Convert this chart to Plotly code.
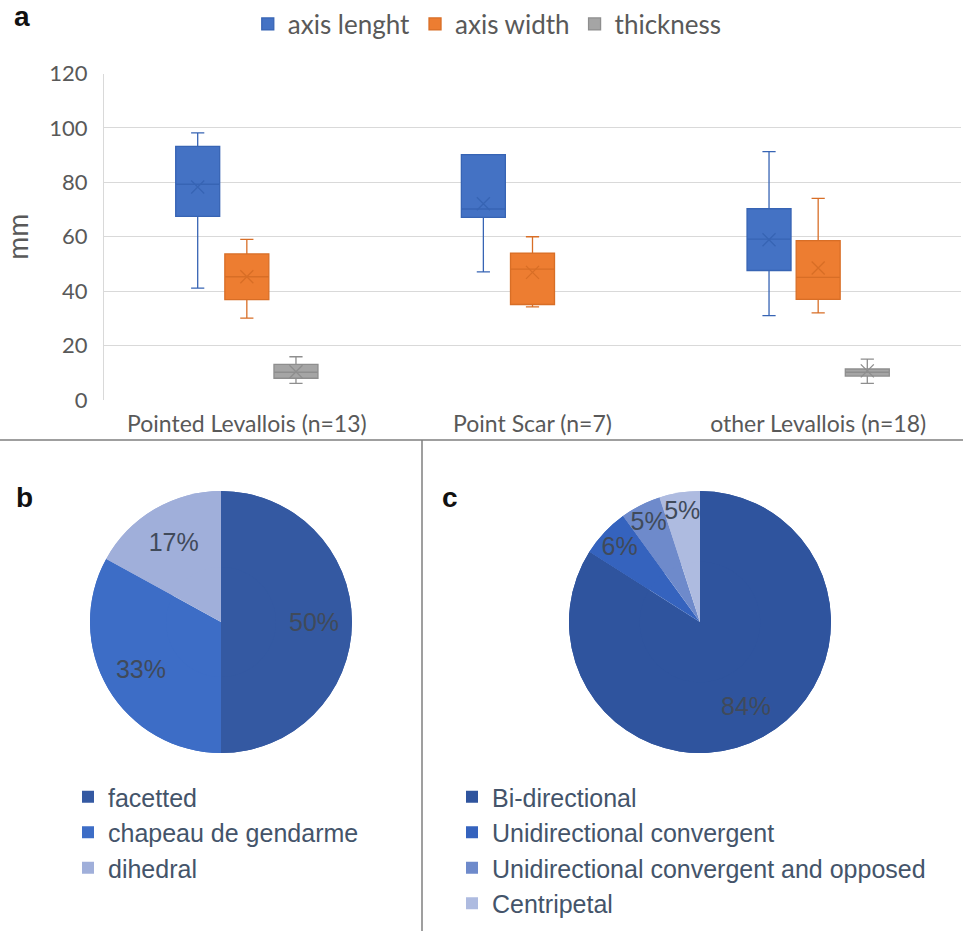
import plotly.graph_objects as go

W, H = 963, 931

# ---------------- data ----------------
categories = ["Pointed Levallois (n=13)", "Point Scar (n=7)", "other Levallois (n=18)"]
series_names = ["axis lenght", "axis width", "thickness"]

# box statistics per series, per category (None = no data)
length_q1 = [67.5, 67.1, 47.6]
length_median = [79.3, 70.2, 59.1]
length_q3 = [93.2, 90.2, 70.3]
length_low = [41.1, 47.1, 31.0]
length_high = [98.2, 90.2, 91.3]
length_mean = [78.3, 72.1, 58.9]

width_q1 = [36.9, 35.1, 37.0]
width_median = [45.3, 48.1, 45.1]
width_q3 = [53.7, 54.0, 58.6]
width_low = [30.1, 34.2, 32.0]
width_high = [59.0, 60.0, 74.1]
width_mean = [45.3, 46.9, 48.5]

thick_q1 = [8.0, None, 8.8]
thick_median = [10.2, None, 10.2]
thick_q3 = [13.1, None, 11.4]
thick_low = [6.1, None, 6.1]
thick_high = [15.9, None, 15.0]
thick_mean = [10.4, None, 10.7]

y_ticks = [0, 20, 40, 60, 80, 100, 120]

platform_labels = ["facetted", "chapeau de gendarme", "dihedral"]
platform_values = [50, 33, 17]

scar_labels = ["Bi-directional", "Unidirectional convergent",
               "Unidirectional convergent and opposed", "Centripetal"]
scar_values = [84, 6, 5, 5]

# ---------------- styles ----------------
fills = ["#4472C4", "#ED7D31", "#A5A5A5"]
edges = ["#3764B4", "#D86E26", "#8E8E8E"]
offsets = [-0.172, 0.0, 0.172]
box_w = 0.154

stats = [
    (length_q1, length_median, length_q3, length_low, length_high, length_mean),
    (width_q1, width_median, width_q3, width_low, width_high, width_mean),
    (thick_q1, thick_median, thick_q3, thick_low, thick_high, thick_mean),
]

fig = go.Figure()

for s, (q1, med, q3, lo, hi, mn) in enumerate(stats):
    idx = [i for i in range(len(categories)) if q1[i] is not None]
    xs = [i + offsets[s] for i in idx]
    fig.add_trace(go.Box(
        name=series_names[s],
        x=xs,
        q1=[q1[i] for i in idx], median=[med[i] for i in idx], q3=[q3[i] for i in idx],
        lowerfence=[lo[i] for i in idx], upperfence=[hi[i] for i in idx],
        width=box_w, whiskerwidth=0.3,
        fillcolor=fills[s], line=dict(color=edges[s], width=1.3),
        boxpoints=False, legend="legend", hoverinfo="skip",
    ))
    fig.add_trace(go.Scatter(
        x=xs, y=[mn[i] for i in idx], mode="markers", showlegend=False,
        marker=dict(symbol="x-thin-open", size=13, color=edges[s],
                    line=dict(color=edges[s], width=1.3)),
        hoverinfo="skip",
    ))

fig.update_layout(
    xaxis=dict(domain=[104 / W, 961 / W], range=[-0.5, 2.5], tickvals=[0, 1, 2],
               ticktext=categories, showgrid=False, zeroline=False, showline=False,
               ticks="", tickfont=dict(family="Lato", size=23, color="#595959"),
               ticklabelstandoff=8, automargin=False, anchor="y"),
    yaxis=dict(domain=[1 - 400 / H, 1 - 73.5 / H], range=[0, 120], tickvals=y_ticks,
               showgrid=True, gridcolor="#D9D9D9", gridwidth=1.3, zeroline=False,
               showline=True, linecolor="#D9D9D9", linewidth=1.3,
               tickfont=dict(family="Lato", size=22, color="#595959"),
               ticks="", ticklabelstandoff=11, automargin=False,
               title=dict(text="mm", font=dict(family="Lato", size=28, color="#595959")),
               anchor="x"),
)

pie_b_colors = ["#3459A2", "#3D6DC6", "#A0AFDA"]
pie_c_colors = ["#2F549E", "#3563BE", "#6E8ACB", "#AEBBE0"]
pie_text = dict(family="Liberation Sans, Arial", size=25, color="#404A5A")

pie_b_dom = dict(x=[90 / W, 352 / W], y=[1 - 753 / H, 1 - 491 / H])
pie_c_dom = dict(x=[569 / W, 831 / W], y=[1 - 753 / H, 1 - 491 / H])

for labels, values, colors, dom, leg, hole in [
    (platform_labels, platform_values, pie_b_colors, pie_b_dom, "legend2", 0.42),
    (scar_labels, scar_values, pie_c_colors, pie_c_dom, "legend3", 0.46),
]:
    # full disc underneath (no text)
    fig.add_trace(go.Pie(
        labels=labels, values=values, sort=False, direction="clockwise", rotation=0,
        marker=dict(colors=colors, line=dict(width=0)), textinfo="none",
        domain=dom, showlegend=False, hoverinfo="skip", legend=leg,
    ))
    # same slices as a ring on top, carrying the percentage labels and legend
    fig.add_trace(go.Pie(
        labels=labels, values=values, sort=False, direction="clockwise", rotation=0,
        hole=hole,
        marker=dict(colors=colors, line=dict(width=0)),
        textinfo="percent", texttemplate="%{percent:.0%}", textposition="inside",
        insidetextorientation="horizontal", textfont=pie_text,
        domain=dom, legend=leg, hoverinfo="skip",
    ))

leg_font = dict(family="Liberation Sans, Arial", size=25, color="#44546A")
fig.update_layout(
    width=W, height=H,
    margin=dict(l=0, r=0, t=0, b=0, pad=0, autoexpand=False),
    paper_bgcolor="white", plot_bgcolor="white",
    uniformtext=dict(minsize=25, mode="show"),
    legend=dict(orientation="h", x=0.506, xanchor="center", y=1 - 24 / H, yanchor="middle",
                font=dict(family="Lato", size=26, color="#595959"), itemclick=False,
                traceorder="normal", itemwidth=30),
    legend2=dict(orientation="v", x=68 / W, xanchor="left", y=1 - 774 / H, yanchor="top",
                 font=leg_font, itemclick=False, bgcolor="rgba(0,0,0,0)"),
    legend3=dict(orientation="v", x=452 / W, xanchor="left", y=1 - 774 / H, yanchor="top",
                 font=leg_font, itemclick=False, bgcolor="rgba(0,0,0,0)"),
    shapes=[
        dict(type="line", xref="paper", yref="paper", x0=0, x1=1,
             y0=1 - 440 / H, y1=1 - 440 / H, line=dict(color="#7F7F7F", width=1.5)),
        dict(type="line", xref="paper", yref="paper", x0=422 / W, x1=422 / W,
             y0=0, y1=1 - 440 / H, line=dict(color="#7F7F7F", width=1.5)),
    ],
    annotations=[
        dict(text="<b>a</b>", xref="paper", yref="paper", x=12 / W, y=1 - 16 / H,
             xanchor="left", yanchor="middle", showarrow=False,
             font=dict(family="Liberation Sans, Arial", size=28, color="#111111")),
        dict(text="<b>b</b>", xref="paper", yref="paper", x=14 / W, y=1 - 497 / H,
             xanchor="left", yanchor="middle", showarrow=False,
             font=dict(family="Liberation Sans, Arial", size=28, color="#111111")),
        dict(text="<b>c</b>", xref="paper", yref="paper", x=440 / W, y=1 - 497 / H,
             xanchor="left", yanchor="middle", showarrow=False,
             font=dict(family="Liberation Sans, Arial", size=28, color="#111111")),
    ],
)

fig.write_html("out.html", config={"displayModeBar": False},
               post_script="document.body.style.margin='0px';document.body.style.overflow='hidden';")
